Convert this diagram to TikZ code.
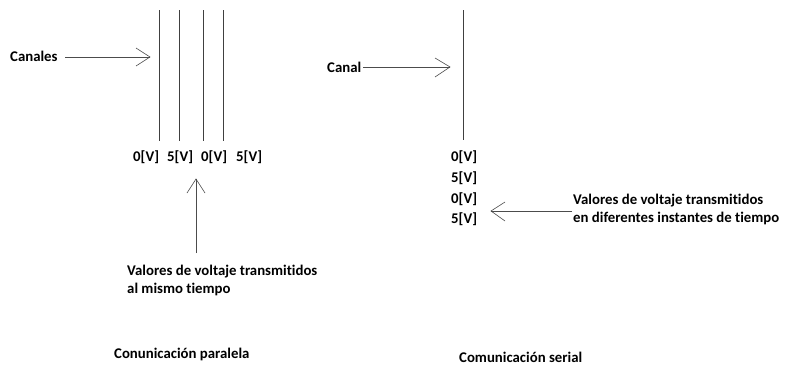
\documentclass[tikz,border=0pt]{standalone}
\usepackage{fontspec}
\setmainfont[Ligatures=NoCommon]{Carlito}
\begin{document}
\begin{tikzpicture}[x=1pt,y=-1pt,
  lbl/.style={inner sep=0pt,anchor=west,font=\fontsize{14.8}{18}\selectfont\bfseries},
  wire/.style={draw=black!75,line width=0.9pt},
  arr/.style={draw=black!70,line width=0.7pt},
  openhead/.style={draw=black!70,line width=0.6pt}]
\useasboundingbox (0,0) rectangle (785,367);
% parallel wires
\foreach \x/\n in {159/p1,179/p2,203/p3,223/p4}{
  \coordinate (\n t) at (\x,10);
  \coordinate (\n b) at (\x,141);
  \draw[wire] (\n t) -- (\n b);
}
\node[lbl] (canales) at (10,56) {Canales};
\coordinate (ca) at (150,57);
\coordinate (cas) at (65,57);
\draw[arr] (cas) -- (ca);
\draw[openhead] (136,48) -- (ca) -- (136,66);
\node[lbl] (v1) at (133,157) {0[V]};
\node[lbl] (v2) at (167,157) {5[V]};
\node[lbl] (v3) at (201,157) {0[V]};
\node[lbl] (v4) at (236,157) {5[V]};
\node[lbl,align=left] (txtp) at (127,280) {Valores de voltaje transmitidos\\al mismo tiempo};
\coordinate (upt) at (196,179);
\coordinate (upb) at (196,253);
\draw[arr] (upb) -- (upt);
\draw[openhead] (187,193) -- (upt) -- (205,193);
\node[lbl] (tp) at (114,354) {Conunicación paralela};
% serial
\coordinate (st) at (463,10);
\coordinate (sb) at (463,140);
\draw[wire] (st) -- (sb);
\node[lbl] (canal) at (327,67) {Canal};
\coordinate (cs) at (450,67);
\coordinate (css) at (363,67);
\draw[arr] (css) -- (cs);
\draw[openhead] (435,58) -- (cs) -- (435,77);
\node[lbl] (s1) at (451,157) {0[V]};
\node[lbl] (s2) at (451,178) {5[V]};
\node[lbl] (s3) at (451,199) {0[V]};
\node[lbl] (s4) at (451,219) {5[V]};
\node[lbl,align=left] (txts) at (573,209) {Valores de voltaje transmitidos\\en diferentes instantes de tiempo};
\coordinate (la) at (491,211);
\coordinate (las) at (572,211);
\draw[arr] (las) -- (la);
\draw[openhead] (505,202) -- (la) -- (505,221);
\node[lbl] (ts) at (459,357) {Comunicación serial};
\end{tikzpicture}
\end{document}
